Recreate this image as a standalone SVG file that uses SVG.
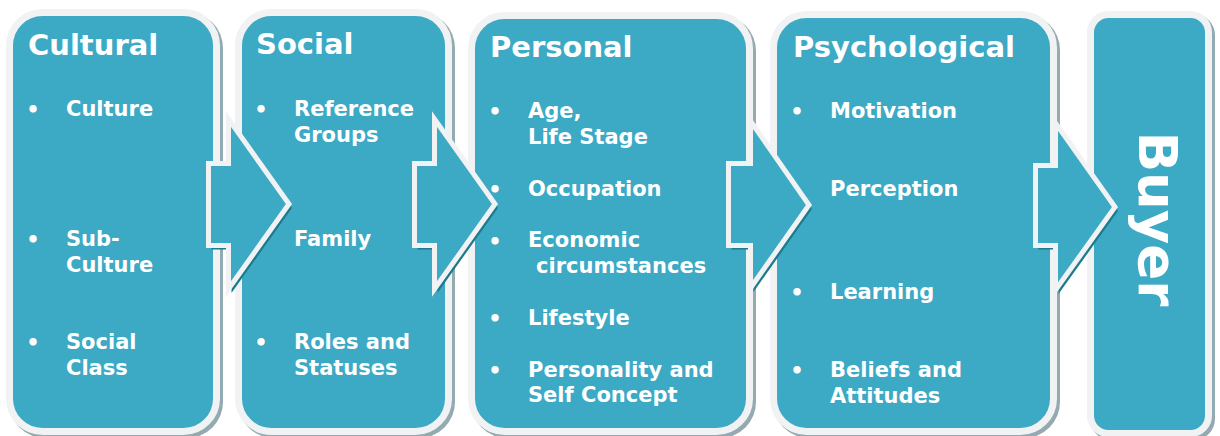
<svg xmlns="http://www.w3.org/2000/svg" width="1220" height="436" viewBox="0 0 1220 436">
<style>
.shadow{fill:#93aab0}
.box{fill:#3ca9c5;stroke:#f0f2f4;stroke-width:7}
.title{font-family:"DejaVu Sans",Verdana,sans-serif;font-weight:bold;font-size:29px;fill:#ffffff}
.item{font-family:"DejaVu Sans",Verdana,sans-serif;font-weight:bold;font-size:21px;fill:#ffffff}
.bul{font-family:"DejaVu Sans",Verdana,sans-serif;font-weight:bold;font-size:21px;fill:#ffffff;text-anchor:middle}
.buyer{font-family:"DejaVu Sans",Verdana,sans-serif;font-weight:bold;font-size:53px;fill:#ffffff;text-anchor:middle}
.arr{fill:#3ca9c5;stroke:#f0f2f4;stroke-width:5;stroke-linejoin:miter}
.arrsh{fill:#1d7b8e}
</style>
<rect width="1220" height="436" fill="#ffffff"/>
<g id="cultural">
<rect class="shadow" x="9" y="12" width="214" height="426" rx="36"/>
<rect class="box" x="9.5" y="12.5" width="207" height="419" rx="33"/>
<text class="title" x="28" y="55">Cultural</text>
<text class="bul" x="33" y="117">•</text>
<text class="item" x="66" y="116">Culture</text>
<text class="bul" x="33" y="247">•</text>
<text class="item" x="66" y="246">Sub-</text>
<text class="item" x="66" y="272">Culture</text>
<text class="bul" x="33" y="350">•</text>
<text class="item" x="66" y="349">Social</text>
<text class="item" x="66" y="375">Class</text>
</g>
<g id="social">
<rect class="shadow" x="238" y="12" width="217" height="426" rx="36"/>
<rect class="box" x="238.5" y="12.5" width="210" height="419" rx="33"/>
<text class="title" x="256" y="54">Social</text>
<text class="bul" x="261" y="117">•</text>
<text class="item" x="294" y="116">Reference</text>
<text class="item" x="294" y="142">Groups</text>
<text class="item" x="294" y="246">Family</text>
<text class="bul" x="261" y="350">•</text>
<text class="item" x="294" y="349">Roles and</text>
<text class="item" x="294" y="375">Statuses</text>
</g>
<g id="personal">
<rect class="shadow" x="471" y="15" width="285" height="423" rx="36"/>
<rect class="box" x="471.5" y="15.5" width="278" height="416" rx="33"/>
<text class="title" x="490" y="57">Personal</text>
<text class="bul" x="495" y="119">•</text>
<text class="item" x="528" y="118">Age,</text>
<text class="item" x="528" y="144">Life Stage</text>
<text class="bul" x="495" y="197">•</text>
<text class="item" x="528" y="196">Occupation</text>
<text class="bul" x="495" y="249">•</text>
<text class="item" x="528" y="247">Economic</text>
<text class="item" x="536" y="273">circumstances</text>
<text class="bul" x="495" y="326">•</text>
<text class="item" x="528" y="325">Lifestyle</text>
<text class="bul" x="495" y="378">•</text>
<text class="item" x="528" y="377">Personality and</text>
<text class="item" x="528" y="402">Self Concept</text>
</g>
<g id="psychological">
<rect class="shadow" x="773" y="14" width="287" height="424" rx="36"/>
<rect class="box" x="773.5" y="14.5" width="280" height="417" rx="33"/>
<text class="title" x="793" y="57">Psychological</text>
<text class="bul" x="797" y="119">•</text>
<text class="item" x="830" y="118">Motivation</text>
<text class="item" x="830" y="196">Perception</text>
<text class="bul" x="797" y="300">•</text>
<text class="item" x="830" y="299">Learning</text>
<text class="bul" x="797" y="378">•</text>
<text class="item" x="830" y="377">Beliefs and</text>
<text class="item" x="830" y="403">Attitudes</text>
</g>
<g id="buyer">
<rect class="shadow" x="1090" y="14" width="125" height="426" rx="21"/>
<rect class="box" x="1090.5" y="14.5" width="118" height="419" rx="18"/>
<text class="buyer" transform="translate(1139,219) rotate(90)">Buyer</text>
</g>
<g id="connectors">
<g transform="translate(3,4)">
<polygon class="arrsh" points="208.5,163.5 228.5,163.5 228.5,119 289,204 228.5,289 228.5,245.5 208.5,245.5"/>
<polygon class="arrsh" points="414.5,163.5 434.5,163.5 434.5,119 495,204 434.5,289 434.5,245.5 414.5,245.5"/>
<polygon class="arrsh" points="728.5,163.5 750.5,163.5 750.5,121 809,205 750.5,288 750.5,245.5 728.5,245.5"/>
<polygon class="arrsh" points="1035.5,165.5 1055.5,165.5 1055.5,123 1115,207 1055.5,290 1055.5,245.5 1035.5,245.5"/>
</g>
<polygon class="arr" points="208.5,163.5 228.5,163.5 228.5,119 289,204 228.5,289 228.5,245.5 208.5,245.5"/>
<polygon class="arr" points="414.5,163.5 434.5,163.5 434.5,119 495,204 434.5,289 434.5,245.5 414.5,245.5"/>
<polygon class="arr" points="728.5,163.5 750.5,163.5 750.5,121 809,205 750.5,288 750.5,245.5 728.5,245.5"/>
<polygon class="arr" points="1035.5,165.5 1055.5,165.5 1055.5,123 1115,207 1055.5,290 1055.5,245.5 1035.5,245.5"/>
</g>
</svg>
